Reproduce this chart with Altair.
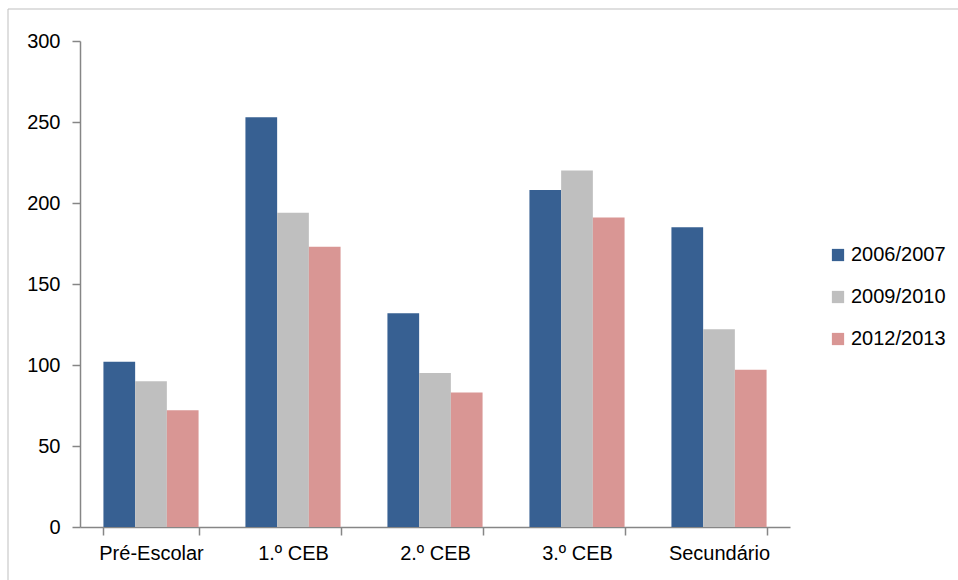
import altair as alt
import pandas as pd

categories = ["Pré-Escolar", "1.º CEB", "2.º CEB", "3.º CEB", "Secundário"]
series = ["2006/2007", "2009/2010", "2012/2013"]
v_2006 = [102, 253, 132, 208, 185]
v_2009 = [90, 194, 95, 220, 122]
v_2012 = [72, 173, 83, 191, 97]
colors = ["#376092", "#BFBFBF", "#D99694"]
y_ticks = [0, 50, 100, 150, 200, 250, 300]

rows = []
for s, vals in zip(series, [v_2006, v_2009, v_2012]):
    for c, v in zip(categories, vals):
        rows.append({"cat": c, "serie": s, "valor": v})
df = pd.DataFrame(rows)

FONT = "Liberation Sans"
AX = "#868686"
FS = 20

bars = alt.Chart(df).mark_bar().encode(
    x=alt.X("cat:N", sort=categories, title=None,
            scale=alt.Scale(paddingInner=0.33, paddingOuter=0.165),
            axis=alt.Axis(labelAngle=0, tickBand="extent", domainColor=AX, tickColor=AX,
                          tickSize=8, labelFontSize=FS, labelFont=FONT, labelColor="#000",
                          labelPadding=8, domainWidth=1.5, tickWidth=1.5)),
    xOffset=alt.XOffset("serie:N", sort=series, scale=alt.Scale(paddingInner=0, paddingOuter=0)),
    y=alt.Y("valor:Q", title=None,
            scale=alt.Scale(domain=[0, 300], nice=False),
            axis=alt.Axis(values=y_ticks, grid=False, domainColor=AX, tickColor=AX,
                          tickSize=8, labelFontSize=FS, labelFont=FONT, labelColor="#000",
                          labelPadding=12, domainWidth=1.5, tickWidth=1.5)),
    color=alt.Color("serie:N", sort=series, scale=alt.Scale(domain=series, range=colors),
                    legend=alt.Legend(title=None, orient="none", legendX=748, legendY=204,
                                      symbolType="square", symbolSize=150, symbolStrokeWidth=0,
                                      labelFontSize=FS, labelFont=FONT, labelColor="#000",
                                      rowPadding=22, labelOffset=3)),
)

frame_df = pd.DataFrame({"k": [0]})
frame_left = alt.Chart(frame_df).mark_rule(color="#BFBFBF", strokeWidth=1).encode(
    x=alt.value(-72), y=alt.value(-32), y2=alt.value(700))
frame_top = alt.Chart(frame_df).mark_rule(color="#BFBFBF", strokeWidth=1).encode(
    y=alt.value(-32), x=alt.value(-72), x2=alt.value(1000))

chart = alt.layer(frame_left, frame_top, bars).properties(
    width=710, height=486,
    background="white",
    autosize=alt.AutoSizeParams(type="none"),
    padding={"left": 80, "top": 41, "right": 168, "bottom": 53},
).configure_view(stroke=None, strokeWidth=0)

chart.save("out.html", embed_options={"renderer": "svg", "actions": False})
